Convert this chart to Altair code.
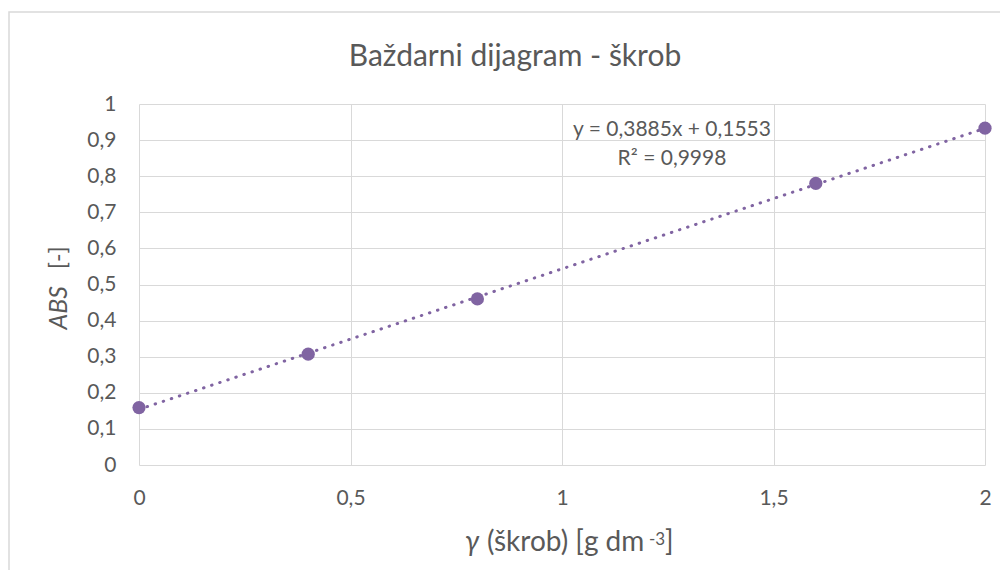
import altair as alt
import pandas as pd

# ---- data ----
conc = [0.0, 0.4, 0.8, 1.6, 2.0]
absorbance = [0.159, 0.307, 0.460, 0.780, 0.933]
x_ticks = [0, 0.5, 1, 1.5, 2]
y_ticks = [0, 0.1, 0.2, 0.3, 0.4, 0.5, 0.6, 0.7, 0.8, 0.9, 1.0]
title_text = "Baždarni dijagram - škrob"
eq_text = "y = 0,3885x + 0,1553"
r2_text = "R² = 0,9998"
ytitle_italic = "ABS"
ytitle_rest = "[-]"
xtitle_italic = "γ"
xtitle_main = "(škrob) [g dm"
xtitle_sup = "-3"
xtitle_end = "]"

df = pd.DataFrame({"x": conc, "y": absorbance})

W, H = 846, 361
FONT = "Lato"
GRAY = "#595959"
GRID = "#d9d9d9"
PURPLE = "#8064A2"

xscale = alt.Scale(domain=[0, 2], nice=False, zero=False)
yscale = alt.Scale(domain=[0, 1], nice=False)
lbl = "replace(datum.label, '.', ',')"

xaxis = alt.Axis(values=x_ticks, format=".1~f", labelExpr=lbl, title=None,
                 grid=True, domain=False, ticks=False, labelPadding=22,
                 labelOverlap=False, labelFlush=False, tickCount=5)
yaxis = alt.Axis(values=y_ticks, format=".1~f", labelExpr=lbl, title=None,
                 grid=True, domain=False, ticks=False, labelPadding=23,
                 labelOverlap=False, labelFlush=False, tickCount=11)

base = alt.Chart(df)

trend = base.transform_regression("x", "y").mark_line(
    color=PURPLE, strokeWidth=3, strokeDash=[0.5, 8], strokeCap="round"
).encode(
    x=alt.X("x:Q", scale=xscale, axis=xaxis),
    y=alt.Y("y:Q", scale=yscale, axis=yaxis),
)

points = base.mark_circle(size=175, opacity=1, color=PURPLE).encode(
    x=alt.X("x:Q", scale=xscale, axis=xaxis),
    y=alt.Y("y:Q", scale=yscale, axis=yaxis),
)


def txt(s, x, y, size, **kw):
    return alt.Chart(pd.DataFrame({"t": [s]})).mark_text(
        font=FONT, fontSize=size, color=GRAY, **kw
    ).encode(text="t:N", x=alt.value(x), y=alt.value(y))


border = alt.Chart(pd.DataFrame({"a": [0]})).mark_rect(
    fillOpacity=0, stroke=GRID, strokeWidth=1.5
).encode(x=alt.value(-130), x2=alt.value(900), y=alt.value(-92), y2=alt.value(600))

title = txt(title_text, 376, -47, 30, align="center", baseline="middle")
eq = txt(eq_text, 533, 26, 21, align="center", baseline="middle")
r2 = txt(r2_text, 533, 55, 21, align="center", baseline="middle")

yt1 = txt(ytitle_italic, -80, 182, 25, align="right", baseline="middle", angle=270, fontStyle="italic")
yt2 = txt(ytitle_rest, -80, 165, 23, align="left", baseline="middle", angle=270)

xt1 = txt(xtitle_italic, 326, 447, 28, align="left", baseline="alphabetic", fontStyle="italic")
xt2 = txt(xtitle_main, 348, 447, 28, align="left", baseline="alphabetic")
xt3 = txt(xtitle_sup, 510, 441, 17, align="left", baseline="alphabetic")
xt4 = txt(xtitle_end, 526, 447, 28, align="left", baseline="alphabetic")

chart = alt.layer(
    border, trend, points, title, eq, r2, yt1, yt2, xt1, xt2, xt3, xt4
).properties(
    width=W, height=H,
    autosize=alt.AutoSizeParams(type="none"),
    padding={"left": 131, "top": 96, "right": 15, "bottom": 105},
).configure_view(stroke=None).configure_axis(
    labelFont=FONT, labelFontSize=21, labelColor=GRAY, gridColor=GRID, gridWidth=1
)

chart.save("out.html", embed_options={"renderer": "svg", "actions": False})
